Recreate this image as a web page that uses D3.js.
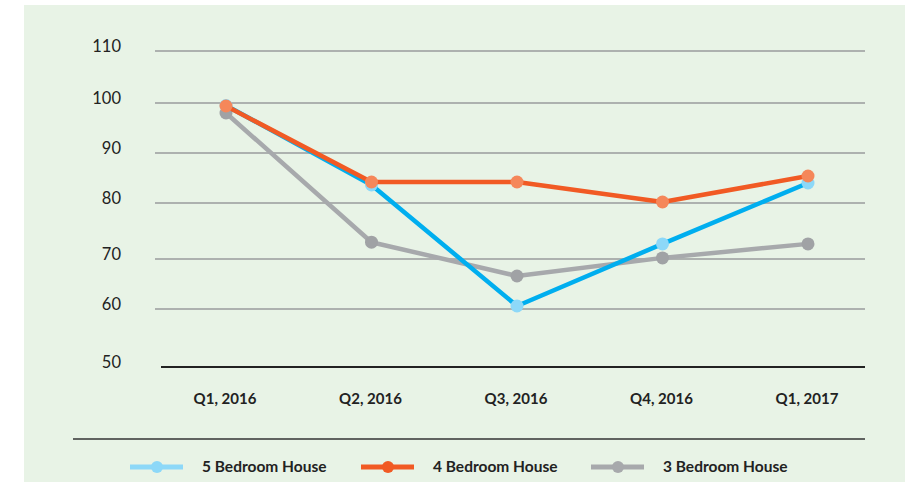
<!DOCTYPE html>
<html>
<head>
<meta charset="utf-8">
<script src="https://cdn.jsdelivr.net/npm/d3@7"></script>
<style>
  body { margin: 0; background: #fff; }
  svg { display: block; }
</style>
</head>
<body>
<div id="chart"></div>
<script>
let width = 905, height = 482;

// data
let quarters = ["Q1, 2016", "Q2, 2016", "Q3, 2016", "Q4, 2016", "Q1, 2017"];
let yTicks = [50, 60, 70, 80, 90, 100, 110];
let fiveBed = [99.5, 83.6, 60.6, 72.7, 84.0];
let fourBed = [99.4, 84.2, 84.2, 80.2, 85.4];
let threeBed = [98.0, 73.0, 66.6, 70.2, 72.7];

let series = [
    {name: "5 Bedroom House", values: fiveBed, line: "#00aeef", dot: "#8dd8f8", key: "#8dd8f8"},
    {name: "4 Bedroom House", values: fourBed, line: "#f15a24", dot: "#f5875a", key: "#f15a24"},
    {name: "3 Bedroom House", values: threeBed, line: "#a7a9ac", dot: "#a0a2a5", key: "#a7a9ac"}
];

let font = "Lato, 'Open Sans', sans-serif";

let x = d3.scalePoint()
    .domain(quarters)
    .range([226, 808]);

// gridlines in the original are not evenly spaced, so map each tick
let y = d3.scaleLinear()
    .domain(yTicks)
    .range([367, 309, 259, 203, 153, 103, 51]);

let svg = d3.select("#chart")
    .append("svg")
    .attr("width", width)
    .attr("height", height);

svg.append("rect")
    .attr("x", 24).attr("y", 5)
    .attr("width", width - 24).attr("height", height - 5)
    .style("fill", "#e8f3e6");

// gridlines
svg.append("g")
    .selectAll("line")
    .data(yTicks.filter(d => d > 50))
    .enter().append("line")
    .attr("x1", 155).attr("x2", 865)
    .attr("y1", d => y(d)).attr("y2", d => y(d))
    .style("stroke", "#9a9b9d")
    .style("stroke-width", 1.5);

// baseline
svg.append("line")
    .attr("x1", 161).attr("x2", 865)
    .attr("y1", y(50)).attr("y2", y(50))
    .style("stroke", "#222")
    .style("stroke-width", 2.2);

// y labels
svg.append("g")
    .selectAll("text")
    .data(yTicks)
    .enter().append("text")
    .attr("x", 121)
    .attr("y", d => y(d) - 5)
    .attr("dy", "0.35em")
    .attr("text-anchor", "end")
    .style("font-family", font)
    .style("font-size", "16.5px")
    .style("fill", "#222")
    .text(d => d);

// x labels
svg.append("g")
    .selectAll("text")
    .data(quarters)
    .enter().append("text")
    .attr("x", d => x(d) - 1)
    .attr("y", 399)
    .attr("dy", "0.35em")
    .attr("text-anchor", "middle")
    .style("font-family", font)
    .style("font-weight", "bold")
    .style("font-size", "15px")
    .style("fill", "#222")
    .text(d => d);

let line = d3.line()
    .x((d, i) => x(quarters[i]))
    .y(d => y(d));

// grey first, orange on top, as in the original
let order = [series[2], series[0], series[1]];

let g = svg.append("g");
order.forEach(function(s) {
    g.append("path")
        .datum(s.values)
        .attr("d", line)
        .style("fill", "none")
        .style("stroke", s.line)
        .style("stroke-width", 4.5)
        .style("stroke-linejoin", "round");
    g.selectAll(null)
        .data(s.values)
        .enter().append("circle")
        .attr("cx", (d, i) => x(quarters[i]))
        .attr("cy", d => y(d))
        .attr("r", 6.5)
        .style("fill", s.dot);
});

// legend
svg.append("line")
    .attr("x1", 73).attr("x2", 865)
    .attr("y1", 439).attr("y2", 439)
    .style("stroke", "#333")
    .style("stroke-width", 1.5);

let legendX = [130, 361, 591];
let legend = svg.append("g")
    .selectAll("g")
    .data(series)
    .enter().append("g")
    .attr("transform", (d, i) => "translate(" + legendX[i] + ",467)");

legend.append("line")
    .attr("x1", 0).attr("x2", 53)
    .style("stroke", d => d.key)
    .style("stroke-width", 5);
legend.append("circle")
    .attr("cx", 27)
    .attr("r", 6)
    .style("fill", d => d.key);
legend.append("text")
    .attr("x", 72)
    .attr("dy", "0.35em")
    .style("font-family", font)
    .style("font-weight", "bold")
    .style("font-size", "15.5px")
    .style("fill", "#222")
    .text(d => d.name);
</script>
</body>
</html>
